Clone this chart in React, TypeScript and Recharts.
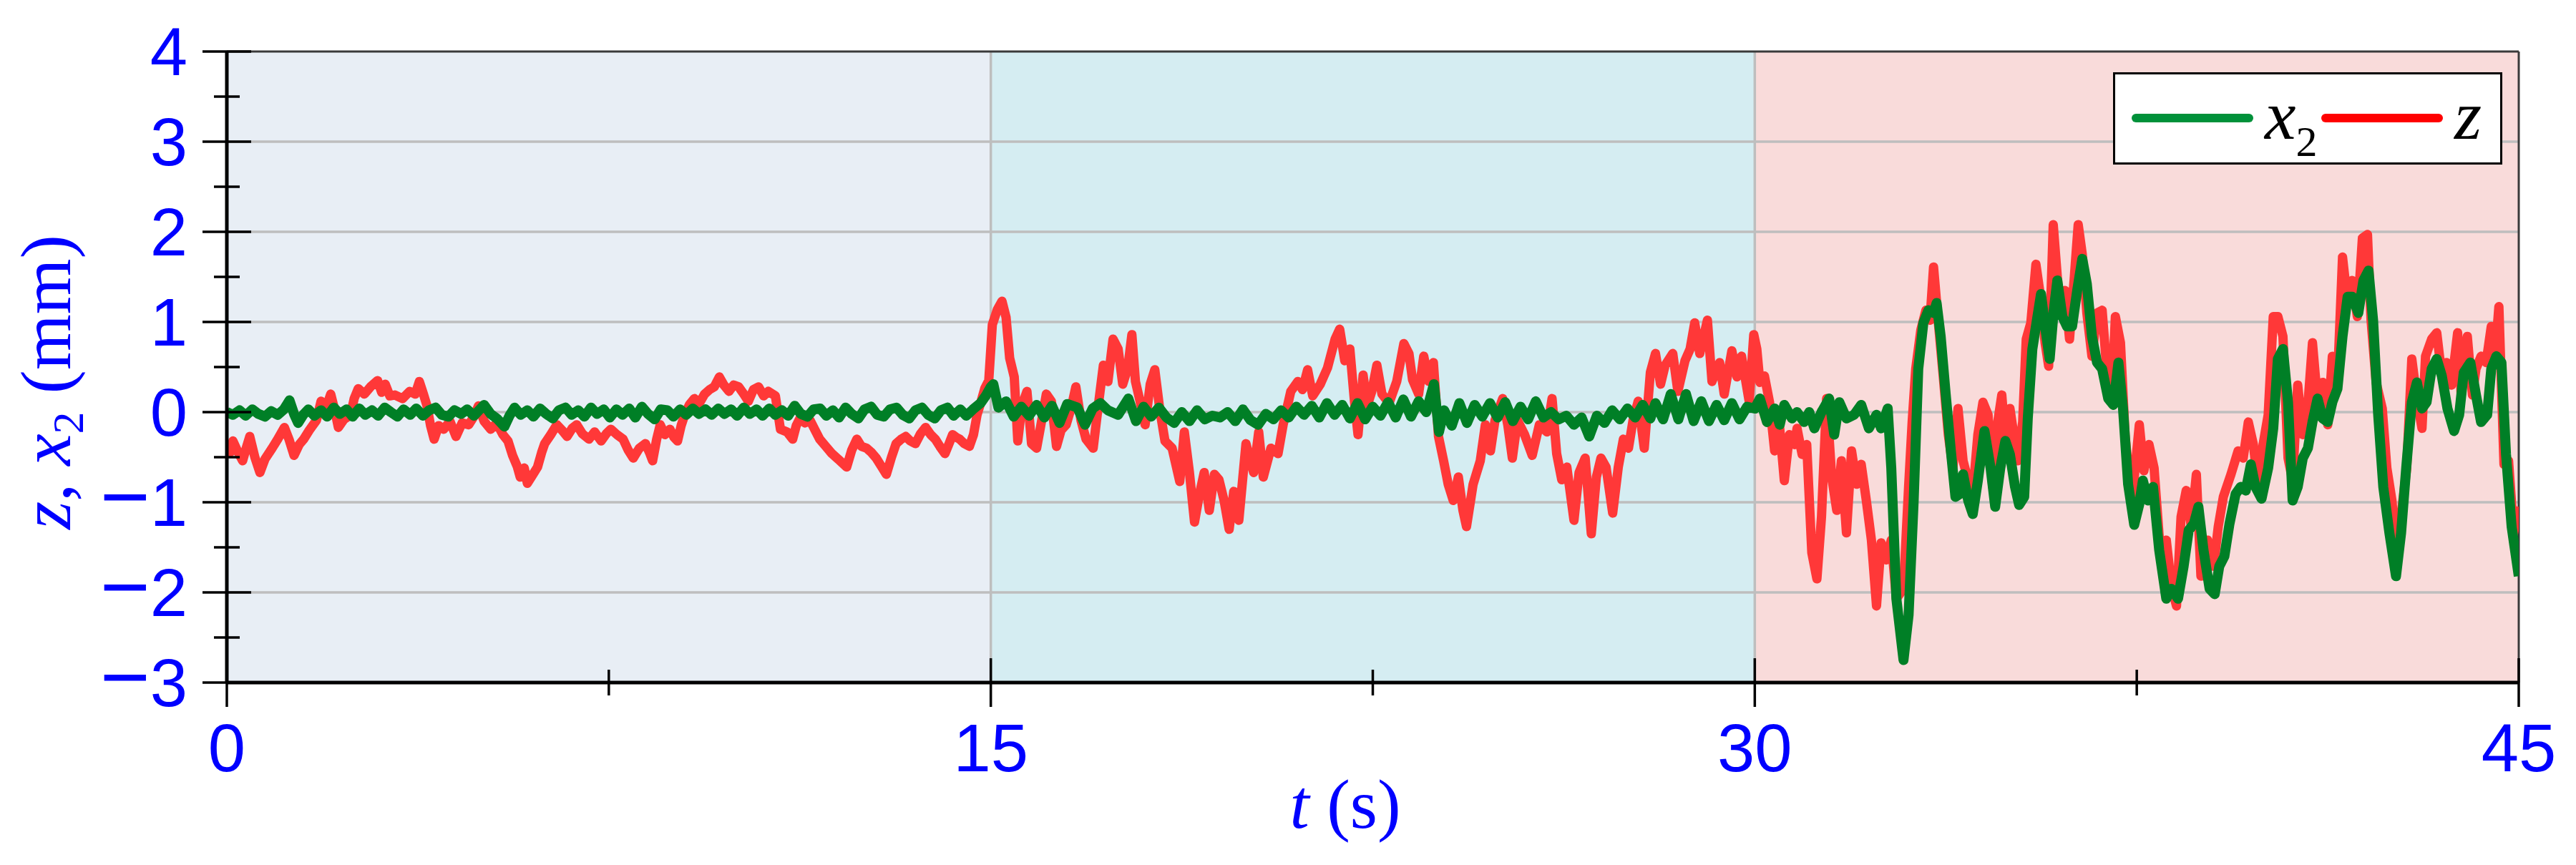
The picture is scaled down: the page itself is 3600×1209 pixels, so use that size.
import React from "react";
import {
  LineChart,
  Line,
  XAxis,
  YAxis,
  ReferenceArea,
  ReferenceLine,
  Legend,
} from "recharts";

// z(t), digitised in three 15 s windows: [t (s), z (mm)]
const zSeg1: [number, number][] = [
  [0.0, -0.39], [0.06, -0.45], [0.12, -0.32], [0.2, -0.42], [0.31, -0.54], [0.38, -0.4], [0.45, -0.27],
  [0.55, -0.5], [0.65, -0.67], [0.75, -0.52], [0.89, -0.4], [1.0, -0.3], [1.13, -0.17], [1.22, -0.3],
  [1.32, -0.48], [1.42, -0.36], [1.51, -0.3], [1.62, -0.2], [1.76, -0.09], [1.85, 0.12], [1.95, 0.05],
  [2.04, 0.2], [2.12, 0.02], [2.19, -0.17], [2.3, -0.08], [2.43, -0.03], [2.5, 0.15], [2.58, 0.26],
  [2.7, 0.2], [2.82, 0.28], [2.96, 0.35], [3.04, 0.22], [3.11, 0.31], [3.2, 0.18], [3.3, 0.19],
  [3.45, 0.15], [3.59, 0.23], [3.7, 0.2], [3.78, 0.34], [3.86, 0.2], [3.93, 0.07], [4.0, -0.15],
  [4.07, -0.3], [4.16, -0.15], [4.26, -0.19], [4.38, -0.1], [4.5, -0.27], [4.62, -0.12], [4.75, -0.14],
  [4.85, -0.05], [4.94, 0.07], [5.05, -0.1], [5.18, -0.19], [5.3, -0.12], [5.42, -0.25], [5.52, -0.32],
  [5.61, -0.48], [5.7, -0.6], [5.76, -0.72], [5.84, -0.62], [5.9, -0.79], [6.0, -0.7], [6.1, -0.61],
  [6.18, -0.45], [6.24, -0.35], [6.36, -0.25], [6.48, -0.14], [6.58, -0.2], [6.68, -0.27], [6.78, -0.18],
  [6.87, -0.14], [6.98, -0.24], [7.11, -0.3], [7.22, -0.22], [7.35, -0.32], [7.45, -0.24], [7.54, -0.19],
  [7.66, -0.25], [7.78, -0.3], [7.88, -0.42], [7.98, -0.51], [8.1, -0.4], [8.22, -0.35], [8.3, -0.45],
  [8.36, -0.54], [8.44, -0.3], [8.51, -0.14], [8.6, -0.25], [8.7, -0.19], [8.78, -0.28], [8.85, -0.32],
  [8.92, -0.15], [8.99, -0.03], [9.08, 0.08], [9.18, 0.15], [9.28, 0.1], [9.38, 0.2], [9.48, 0.25],
  [9.57, 0.28], [9.67, 0.39], [9.76, 0.3], [9.86, 0.23], [9.95, 0.3], [10.05, 0.28], [10.15, 0.2],
  [10.24, 0.12], [10.34, 0.25], [10.44, 0.28], [10.54, 0.18], [10.63, 0.23], [10.77, 0.18], [10.87, -0.19],
  [11.0, -0.22], [11.11, -0.3], [11.18, -0.15], [11.26, -0.06], [11.35, -0.12], [11.45, -0.09], [11.55, -0.2],
  [11.64, -0.3], [11.76, -0.38], [11.88, -0.46], [12.0, -0.52], [12.17, -0.61], [12.27, -0.42], [12.37, -0.3],
  [12.46, -0.38], [12.56, -0.4], [12.66, -0.45], [12.75, -0.51], [12.85, -0.6], [12.95, -0.69], [13.05, -0.5],
  [13.14, -0.35], [13.24, -0.3], [13.33, -0.27], [13.42, -0.32], [13.52, -0.35], [13.62, -0.24], [13.72, -0.17],
  [13.82, -0.25], [13.91, -0.3], [14.0, -0.38], [14.1, -0.46], [14.18, -0.35], [14.25, -0.25], [14.32, -0.28],
  [14.39, -0.3], [14.48, -0.35], [14.58, -0.38], [14.66, -0.25], [14.73, -0.03], [14.8, 0.1], [14.88, 0.26],
  [14.96, 0.35],
];

const zSeg2: [number, number][] = [
  [15.03, 0.97], [15.13, 1.14], [15.22, 1.23], [15.3, 1.05], [15.37, 0.6], [15.46, 0.39], [15.53, -0.32],
  [15.61, 0.07], [15.71, 0.23], [15.8, -0.35], [15.9, -0.4], [16.0, -0.09], [16.09, 0.2], [16.19, 0.12],
  [16.29, -0.38], [16.38, -0.2], [16.48, -0.14], [16.58, 0.05], [16.67, 0.28], [16.77, -0.09], [16.87, -0.3],
  [17.01, -0.4], [17.11, 0.07], [17.21, 0.52], [17.3, 0.34], [17.4, 0.81], [17.5, 0.7], [17.59, 0.31],
  [17.69, 0.49], [17.77, 0.86], [17.84, 0.34], [17.93, 0.12], [18.03, -0.14], [18.13, 0.31], [18.22, 0.47],
  [18.32, 0.02], [18.42, -0.32], [18.56, -0.4], [18.71, -0.77], [18.8, -0.22], [18.9, -0.67], [19.0, -1.22],
  [19.09, -0.93], [19.19, -0.67], [19.29, -1.09], [19.39, -0.69], [19.48, -0.75], [19.58, -0.98], [19.68, -1.3],
  [19.77, -0.88], [19.87, -1.2], [20.01, -0.35], [20.16, -0.67], [20.26, -0.22], [20.35, -0.72], [20.5, -0.4],
  [20.64, -0.46], [20.74, -0.14], [20.89, 0.23], [21.03, 0.34], [21.12, 0.25], [21.22, 0.47], [21.32, 0.18],
  [21.47, 0.31], [21.61, 0.49], [21.76, 0.81], [21.85, 0.92], [21.95, 0.57], [22.05, 0.7], [22.14, 0.12],
  [22.21, -0.25], [22.31, 0.41], [22.39, 0.07], [22.48, 0.23], [22.58, 0.52], [22.68, 0.2], [22.82, 0.1],
  [22.97, 0.34], [23.11, 0.76], [23.21, 0.65], [23.28, 0.36], [23.4, 0.2], [23.5, 0.62], [23.6, 0.34],
  [23.69, 0.55], [23.79, -0.27], [23.89, -0.54], [23.98, -0.8], [24.08, -0.98], [24.18, -0.72], [24.27, -1.09],
  [24.34, -1.27], [24.47, -0.8], [24.61, -0.54], [24.71, -0.14], [24.81, -0.43], [24.9, -0.09], [25.05, 0.15],
  [25.15, -0.14], [25.24, -0.51], [25.34, -0.09], [25.48, -0.25], [25.63, -0.48], [25.77, -0.14], [25.92, -0.22],
  [26.02, 0.15], [26.11, -0.46], [26.21, -0.75], [26.31, -0.61], [26.45, -1.2], [26.55, -0.67], [26.67, -0.51],
  [26.79, -1.35], [26.89, -0.72], [26.98, -0.51], [27.08, -0.61], [27.21, -1.12], [27.32, -0.61], [27.42, -0.3],
  [27.52, -0.4], [27.61, -0.09], [27.71, 0.12], [27.83, -0.4], [27.95, 0.44], [28.05, 0.65], [28.15, 0.31],
  [28.24, 0.52], [28.39, 0.65], [28.49, 0.23], [28.63, 0.57], [28.73, 0.7], [28.82, 0.99], [28.92, 0.65],
  [29.07, 1.02], [29.16, 0.34], [29.31, 0.55], [29.4, 0.2], [29.55, 0.68], [29.65, 0.39], [29.74, 0.62],
  [29.89, 0.12], [29.98, 0.86],
];

const zSeg3: [number, number][] = [
  [30.04, 0.7], [30.1, 0.33], [30.19, 0.4], [30.29, 0.11], [30.39, -0.43], [30.49, -0.18], [30.58, -0.76],
  [30.68, -0.25], [30.78, -0.36], [30.83, -0.18], [30.93, -0.47], [31.02, -0.36], [31.12, -1.56], [31.22, -1.85],
  [31.31, -1.16], [31.41, 0.15], [31.51, -0.72], [31.61, -1.09], [31.7, -0.54], [31.8, -1.34], [31.9, -0.43],
  [32.0, -0.8], [32.09, -0.58], [32.19, -0.98], [32.29, -1.42], [32.39, -2.15], [32.48, -1.45], [32.58, -1.64],
  [32.68, -1.42], [32.78, -2.07], [32.92, -1.96], [33.02, -0.83], [33.09, -0.11], [33.16, 0.48], [33.26, 0.91],
  [33.36, 1.13], [33.44, 1.02], [33.51, 1.61], [33.6, 1.02], [33.7, 0.4], [33.8, -0.25], [33.89, -0.62],
  [33.99, 0.04], [34.09, -0.54], [34.19, -0.76], [34.28, -0.91], [34.38, -0.25], [34.48, 0.11], [34.58, -0.03],
  [34.67, -0.83], [34.77, -0.11], [34.85, 0.19], [34.92, -0.32], [35.01, 0.04], [35.16, -0.54], [35.26, -0.11],
  [35.33, 0.81], [35.42, 0.99], [35.52, 1.64], [35.62, 1.24], [35.7, 0.77], [35.77, 0.51], [35.86, 2.08],
  [35.97, 1.28], [36.09, 1.35], [36.18, 0.81], [36.26, 1.39], [36.35, 2.08], [36.43, 1.75], [36.52, 1.1],
  [36.62, 0.62], [36.72, 1.1], [36.82, 1.13], [36.91, 0.48], [37.01, 0.19], [37.08, 1.06], [37.18, 0.77],
  [37.27, -0.25], [37.4, -1.02], [37.55, -0.14], [37.64, -0.65], [37.74, -0.36], [37.84, -0.62], [37.96, -1.53],
  [38.08, -1.42], [38.18, -1.93], [38.28, -2.15], [38.37, -1.16], [38.47, -0.87], [38.57, -1.27], [38.67, -0.69],
  [38.76, -1.82], [38.89, -1.42], [39.01, -1.71], [39.1, -1.27], [39.2, -0.94], [39.35, -0.69], [39.49, -0.43],
  [39.59, -0.51], [39.69, -0.11], [39.79, -0.36], [39.88, -0.83], [39.98, -0.36], [40.08, -0.03], [40.18, 1.06],
  [40.27, 1.06], [40.37, 0.84], [40.47, -0.51], [40.56, -0.76], [40.66, 0.3], [40.76, -0.25], [40.86, 0.08],
  [40.95, 0.77], [41.05, 0.11], [41.15, 0.33], [41.25, -0.14], [41.34, 0.62], [41.44, 0.33], [41.54, 1.72],
  [41.64, 1.21], [41.73, 1.46], [41.83, 1.06], [41.93, 1.93], [42.03, 1.97], [42.1, 1.02], [42.2, 0.33],
  [42.32, 0.04], [42.41, -0.62], [42.51, -0.98], [42.61, -1.64], [42.71, -1.05], [42.8, -0.62], [42.9, 0.59],
  [43.0, 0.15], [43.1, -0.18], [43.17, 0.62], [43.29, 0.81], [43.39, 0.88], [43.49, 0.4], [43.58, 0.55],
  [43.68, 0.3], [43.8, 0.88], [43.87, 0.19], [43.99, 0.84], [44.09, 0.19], [44.16, 0.48], [44.26, 0.62],
  [44.36, 0.55], [44.46, 0.95], [44.54, 0.66], [44.61, 1.17], [44.71, -0.58], [44.8, -0.54], [44.9, -1.34],
  [45.0, -1.05],
];

// x2(t), same windows
const x2Seg1: [number, number][] = [
  [0.0, 0.0], [0.12, -0.03], [0.25, 0.02], [0.37, -0.04], [0.5, 0.03], [0.62, -0.02], [0.75, -0.05],
  [0.87, 0.01], [1.0, -0.03], [1.12, 0.03], [1.23, 0.13], [1.32, -0.02], [1.4, -0.12], [1.5, -0.03],
  [1.6, 0.03], [1.72, -0.04], [1.85, 0.02], [1.97, -0.05], [2.1, 0.05], [2.22, -0.02], [2.35, 0.03],
  [2.47, -0.05], [2.6, 0.04], [2.72, -0.03], [2.85, 0.02], [2.97, -0.04], [3.1, 0.05], [3.22, 0.0],
  [3.35, -0.05], [3.47, 0.03], [3.6, -0.03], [3.72, 0.04], [3.85, -0.04], [3.97, 0.02], [4.1, 0.05],
  [4.22, -0.03], [4.35, -0.05], [4.47, 0.02], [4.6, -0.02], [4.72, 0.03], [4.85, -0.04], [4.97, 0.03],
  [5.05, 0.08], [5.18, -0.02], [5.3, -0.07], [5.45, -0.16], [5.55, -0.04], [5.65, 0.05], [5.77, -0.03],
  [5.9, 0.02], [6.02, -0.05], [6.15, 0.04], [6.27, -0.02], [6.4, -0.07], [6.52, 0.02], [6.65, 0.05],
  [6.77, -0.03], [6.9, 0.02], [7.02, -0.05], [7.15, 0.05], [7.27, -0.02], [7.4, 0.03], [7.52, -0.06],
  [7.65, 0.03], [7.77, -0.03], [7.9, 0.04], [8.02, -0.06], [8.15, 0.06], [8.27, -0.02], [8.4, -0.08],
  [8.52, 0.03], [8.65, 0.02], [8.77, -0.05], [8.9, 0.03], [9.02, -0.03], [9.15, 0.04], [9.27, -0.02],
  [9.4, 0.03], [9.52, -0.03], [9.65, 0.04], [9.77, -0.02], [9.9, 0.03], [10.02, -0.04], [10.15, 0.05],
  [10.27, -0.02], [10.4, 0.03], [10.52, -0.04], [10.65, 0.04], [10.77, -0.03], [10.9, 0.02], [11.02, -0.04],
  [11.15, 0.07], [11.27, -0.02], [11.4, -0.05], [11.52, 0.03], [11.65, 0.04], [11.77, -0.04], [11.9, 0.02],
  [12.02, -0.06], [12.15, 0.05], [12.27, -0.02], [12.4, -0.07], [12.52, 0.03], [12.65, 0.06], [12.77, -0.03],
  [12.9, -0.05], [13.02, 0.03], [13.15, 0.05], [13.27, -0.03], [13.4, -0.07], [13.52, 0.02], [13.65, 0.05],
  [13.77, -0.03], [13.9, -0.07], [14.02, 0.02], [14.15, 0.05], [14.27, -0.04], [14.4, 0.03], [14.52, -0.04],
  [14.65, 0.03], [14.8, 0.1], [14.9, 0.18], [15.0, 0.28],
];

const x2Seg2: [number, number][] = [
  [15.05, 0.31], [15.15, 0.05], [15.3, 0.12], [15.45, -0.05], [15.6, 0.06], [15.75, -0.04], [15.9, 0.08],
  [16.05, -0.06], [16.2, 0.07], [16.35, -0.12], [16.5, 0.09], [16.7, 0.05], [16.85, -0.14], [17.0, 0.04],
  [17.15, 0.1], [17.3, 0.02], [17.5, -0.03], [17.7, 0.15], [17.85, -0.1], [18.0, 0.06], [18.15, -0.05],
  [18.3, 0.05], [18.45, -0.06], [18.6, -0.12], [18.75, 0.0], [18.9, -0.1], [19.05, 0.02], [19.2, -0.08],
  [19.35, -0.04], [19.5, -0.06], [19.65, 0.0], [19.8, -0.1], [19.95, 0.03], [20.1, -0.09], [20.25, -0.14],
  [20.4, -0.02], [20.55, -0.08], [20.7, 0.02], [20.85, -0.06], [21.0, 0.06], [21.15, -0.03], [21.3, 0.07],
  [21.45, -0.06], [21.6, 0.1], [21.75, -0.03], [21.9, 0.08], [22.05, -0.07], [22.2, 0.1], [22.35, -0.08],
  [22.5, 0.06], [22.65, -0.04], [22.8, 0.11], [22.95, -0.06], [23.1, 0.14], [23.25, -0.05], [23.4, 0.12],
  [23.55, 0.0], [23.7, 0.31], [23.8, -0.22], [23.9, 0.02], [24.05, -0.15], [24.2, 0.1], [24.35, -0.12],
  [24.5, 0.08], [24.65, -0.05], [24.8, 0.1], [24.95, -0.06], [25.1, 0.11], [25.25, -0.1], [25.4, 0.06],
  [25.55, -0.08], [25.7, 0.12], [25.85, -0.06], [26.0, 0.0], [26.15, -0.08], [26.3, -0.04], [26.45, -0.14],
  [26.6, -0.06], [26.75, -0.27], [26.9, -0.04], [27.05, -0.12], [27.2, 0.02], [27.35, -0.08], [27.5, 0.04],
  [27.65, -0.06], [27.8, 0.08], [27.95, -0.07], [28.05, 0.1], [28.2, -0.08], [28.35, 0.2], [28.5, -0.08],
  [28.65, 0.2], [28.8, -0.1], [28.95, 0.12], [29.1, -0.1], [29.25, 0.08], [29.4, -0.09], [29.55, 0.1],
  [29.7, -0.08], [29.85, 0.06],
];

const x2Seg3: [number, number][] = [
  [30.0, 0.04], [30.1, 0.15], [30.24, -0.11], [30.39, 0.04], [30.49, -0.14], [30.58, 0.08], [30.73, -0.07],
  [30.83, 0.0], [30.97, -0.11], [31.07, 0.0], [31.17, -0.18], [31.31, 0.0], [31.46, 0.15], [31.56, -0.25],
  [31.66, 0.11], [31.8, -0.07], [31.95, -0.03], [32.09, 0.08], [32.24, -0.18], [32.39, -0.03], [32.48, -0.18],
  [32.61, 0.04], [32.68, -0.62], [32.78, -2.07], [32.92, -2.75], [33.02, -2.25], [33.12, -0.98], [33.21, 0.48],
  [33.31, 0.99], [33.41, 1.13], [33.51, 1.1], [33.57, 1.21], [33.65, 0.84], [33.75, 0.19], [33.85, -0.43],
  [33.94, -0.94], [34.02, -0.91], [34.09, -0.69], [34.19, -0.98], [34.28, -1.13], [34.38, -0.76], [34.51, -0.21],
  [34.63, -0.62], [34.72, -1.05], [34.82, -0.62], [34.92, -0.32], [35.01, -0.47], [35.11, -0.83], [35.19, -1.03],
  [35.29, -0.94], [35.36, -0.07], [35.45, 0.7], [35.55, 1.06], [35.62, 1.31], [35.7, 0.95], [35.79, 0.59],
  [35.87, 1.13], [35.94, 1.46], [36.04, 1.06], [36.13, 0.95], [36.23, 0.95], [36.33, 1.35], [36.43, 1.7],
  [36.52, 1.42], [36.62, 0.84], [36.72, 0.55], [36.82, 0.48], [36.94, 0.15], [37.04, 0.08], [37.14, 0.55],
  [37.23, 0.04], [37.33, -0.8], [37.45, -1.25], [37.55, -1.02], [37.62, -0.76], [37.72, -0.98], [37.82, -0.83],
  [37.94, -1.53], [38.08, -2.07], [38.18, -1.96], [38.31, -2.07], [38.42, -1.71], [38.52, -1.31], [38.62, -1.24],
  [38.71, -1.05], [38.81, -1.53], [38.93, -1.96], [39.03, -2.02], [39.12, -1.71], [39.22, -1.6], [39.32, -1.24],
  [39.44, -0.91], [39.54, -0.83], [39.64, -0.87], [39.74, -0.58], [39.83, -0.83], [39.95, -0.96], [40.08, -0.62],
  [40.18, -0.18], [40.27, 0.59], [40.37, 0.7], [40.47, 0.11], [40.56, -0.98], [40.66, -0.83], [40.76, -0.51],
  [40.86, -0.4], [40.95, -0.11], [41.05, 0.15], [41.15, -0.07], [41.25, -0.11], [41.34, 0.11], [41.44, 0.26],
  [41.54, 0.84], [41.64, 1.28], [41.73, 1.28], [41.85, 1.1], [41.95, 1.46], [42.05, 1.57], [42.14, 1.02],
  [42.24, -0.03], [42.34, -0.83], [42.46, -1.34], [42.59, -1.82], [42.69, -1.34], [42.79, -0.62], [42.9, 0.11],
  [43.0, 0.33], [43.1, 0.04], [43.19, 0.11], [43.29, 0.48], [43.39, 0.59], [43.49, 0.4], [43.6, 0.04],
  [43.73, -0.21], [43.83, -0.03], [43.92, 0.44], [44.05, 0.55], [44.16, 0.19], [44.26, -0.11], [44.38, -0.03],
  [44.46, 0.48], [44.56, 0.62], [44.66, 0.55], [44.75, -0.47], [44.86, -1.27], [45.0, -1.82],
];

const xTicks = [0, 7.5, 15, 22.5, 30, 37.5, 45];
const xLabelled = [0, 15, 30, 45];
const yTicks = [-3, -2.5, -2, -1.5, -1, -0.5, 0, 0.5, 1, 1.5, 2, 2.5, 3, 3.5, 4];
const gridY = [-2, -1, 0, 1, 2, 3];
const gridX = [15, 30];

const bands = [
  { x1: 0, x2: 15, fill: "#E8EEF5" },
  { x1: 15, x2: 30, fill: "#D5EDF2" },
  { x1: 30, x2: 45, fill: "#F9DBDA" },
];

const legendItems = [
  { name: "x", sub: "2", color: "#00913A" },
  { name: "z", sub: "", color: "#FF0000" },
];

const zData = [...zSeg1, ...zSeg2, ...zSeg3].map(([t, v]) => ({ t, z: v }));
const x2Data = [...x2Seg1, ...x2Seg2, ...x2Seg3].map(([t, v]) => ({ t, x2: v }));

const BLUE = "#0000FF";
const SANS = "'Liberation Sans', Arial, sans-serif";
const SERIF = "'Liberation Serif', 'Times New Roman', serif";

function fmt(v: number) {
  return v < 0 ? (
    <>
      <tspan fontSize={120}>−</tspan>
      <tspan>{Math.abs(v)}</tspan>
    </>
  ) : (
    String(v)
  );
}

function YTick(props: any) {
  const { x, y, payload } = props;
  const v = payload.value as number;
  const major = Number.isInteger(v);
  const len = major ? 34 : 18;
  return (
    <g>
      <line x1={x - len} x2={x + len} y1={y} y2={y} stroke="#000" strokeWidth={3.5} />
      {major && (
        <text x={x - 55} y={y + 33} textAnchor="end" fill={BLUE} fontFamily={SANS} fontSize={94}>
          {fmt(v)}
        </text>
      )}
    </g>
  );
}

function XTick(props: any) {
  const { x, y, payload } = props;
  const v = payload.value as number;
  const major = xLabelled.includes(v);
  const len = major ? 34 : 18;
  return (
    <g>
      <line x1={x} x2={x} y1={y - len} y2={y + len} stroke="#000" strokeWidth={3.5} />
      {major && (
        <text x={x} y={y + 124} textAnchor="middle" fill={BLUE} fontFamily={SANS} fontSize={94}>
          {v}
        </text>
      )}
    </g>
  );
}

function YTitle() {
  return (
    <text
      transform="translate(98, 534) rotate(-90)"
      textAnchor="middle"
      fill={BLUE}
      fontFamily={SERIF}
      fontSize={100}
    >
      <tspan fontStyle="italic">z</tspan>
      <tspan>, </tspan>
      <tspan fontStyle="italic">x</tspan>
      <tspan fontSize={62} dy={18}>2</tspan>
      <tspan dy={-18}> (mm)</tspan>
    </text>
  );
}

function XTitle() {
  return (
    <text x={1880} y={1157} textAnchor="middle" fill={BLUE} fontFamily={SERIF} fontSize={98}>
      <tspan fontStyle="italic">t</tspan>
      <tspan> (s)</tspan>
    </text>
  );
}

function LegendBox() {
  return (
    <svg width={544} height={129} style={{ display: "block" }}>
      <rect x={1.5} y={1.5} width={541} height={126} fill="#fff" stroke="#000" strokeWidth={3} />
      {legendItems.map((item, i) => {
        const x0 = 32 + i * 265;
        return (
          <g key={item.name}>
            <line x1={x0} x2={x0 + 158} y1={64} y2={64} stroke={item.color} strokeWidth={12} strokeLinecap="round" />
            <text x={x0 + 180} y={93} fontFamily={SERIF} fontSize={98} fill="#000">
              <tspan fontStyle="italic">{item.name}</tspan>
              {item.sub && (
                <tspan fontSize={60} dy={24}>
                  {item.sub}
                </tspan>
              )}
            </text>
          </g>
        );
      })}
    </svg>
  );
}

export default function App() {
  return (
    <div style={{ width: 3600, height: 1209, background: "#fff" }}>
      <style>{"body{margin:0}"}</style>
      <LineChart width={3600} height={1209} margin={{ top: 72, right: 80, bottom: 0, left: 0 }}>
        {bands.map((b) => (
          <ReferenceArea key={b.x1} x1={b.x1} x2={b.x2} y1={-3} y2={4} fill={b.fill} fillOpacity={1} stroke="none" ifOverflow="hidden" />
        ))}
        {gridY.map((v) => (
          <ReferenceLine key={`gy${v}`} y={v} stroke="#BEBEBE" strokeWidth={3.5} />
        ))}
        {gridX.map((v) => (
          <ReferenceLine key={`gx${v}`} x={v} stroke="#BEBEBE" strokeWidth={3.5} />
        ))}
        <ReferenceLine y={4} stroke="#3a3a3a" strokeWidth={3} />
        <ReferenceLine x={45} stroke="#3a3a3a" strokeWidth={3} />
        <Line
          data={zData}
          dataKey="z"
          type="linear"
          stroke="#FF3838"
          strokeWidth={13}
          strokeLinejoin="round"
          dot={false}
          isAnimationActive={false}
          legendType="none"
        />
        <Line
          data={x2Data}
          dataKey="x2"
          type="linear"
          stroke="#007F26"
          strokeWidth={14}
          strokeLinejoin="round"
          dot={false}
          isAnimationActive={false}
          legendType="none"
        />
        <XAxis
          type="number"
          dataKey="t"
          domain={[0, 45]}
          ticks={xTicks}
          interval={0}
          height={255}
          tickSize={0}
          tickMargin={0}
          tickLine={false}
          tick={<XTick />}
          axisLine={{ stroke: "#000", strokeWidth: 5 }}
          allowDataOverflow
          label={<XTitle />}
        />
        <YAxis
          type="number"
          domain={[-3, 4]}
          ticks={yTicks}
          interval={0}
          width={317}
          tickSize={0}
          tickMargin={0}
          tickLine={false}
          tick={<YTick />}
          axisLine={{ stroke: "#000", strokeWidth: 5 }}
          allowDataOverflow
          label={<YTitle />}
        />
        <Legend
          layout="horizontal"
          verticalAlign="middle"
          align="center"
          content={() => <LegendBox />}
          wrapperStyle={{ left: 2953, top: 101, width: 544, height: 129 }}
        />
      </LineChart>
    </div>
  );
}
